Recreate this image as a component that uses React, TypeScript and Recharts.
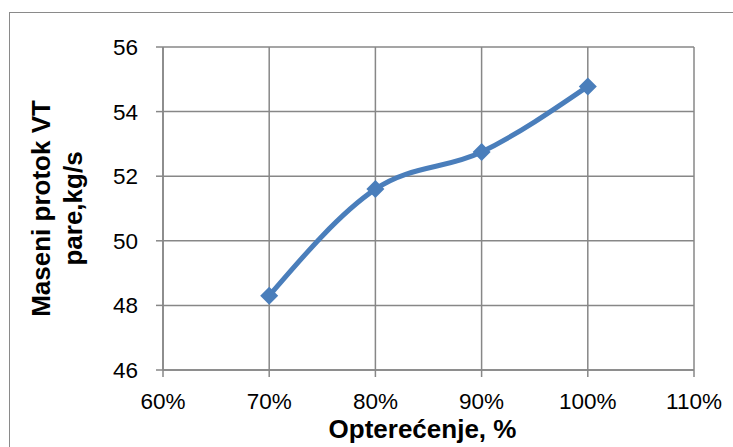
import React from "react";
import { LineChart, Line, XAxis, YAxis, CartesianGrid, Label } from "recharts";

const loadPct = [70, 80, 90, 100];
const massFlow = [48.3, 51.6, 52.75, 54.78];
const xTicks = [60, 70, 80, 90, 100, 110];
const yTicks = [46, 48, 50, 52, 54, 56];

const data = loadPct.map((x, i) => ({ x, y: massFlow[i] }));

const BLUE = "#4a7ebb";
const GRID = "#878787";
const FONT = "'Liberation Sans', Arial, sans-serif";

const Diamond = (props: any) => {
  const { cx, cy } = props;
  if (cx == null || cy == null) return null;
  const r = 9;
  return (
    <polygon
      points={`${cx},${cy - r} ${cx + r},${cy} ${cx},${cy + r} ${cx - r},${cy}`}
      fill={BLUE}
      stroke="none"
    />
  );
};

const YTitle = (props: any) => {
  const vb = props.viewBox || {};
  const cy = vb.y + vb.height / 2;
  return (
    <g>
      <text
        transform={`translate(50, ${cy}) rotate(-90)`}
        textAnchor="middle"
        fontFamily={FONT}
        fontWeight="bold"
        fontSize={26}
        fill="#000"
      >
        Maseni protok VT
      </text>
      <text
        transform={`translate(82, ${cy}) rotate(-90)`}
        textAnchor="middle"
        fontFamily={FONT}
        fontWeight="bold"
        fontSize={26}
        fill="#000"
      >
        pare,kg/s
      </text>
    </g>
  );
};

const XTitle = (props: any) => {
  const vb = props.viewBox || {};
  const cx = vb.x + vb.width / 2;
  return (
    <text
      x={cx - 6}
      y={vb.y + 68}
      textAnchor="middle"
      fontFamily={FONT}
      fontWeight="bold"
      fontSize={26}
      fill="#000"
    >
      Opterećenje, %
    </text>
  );
};

export default function App() {
  return (
    <div
      style={{
        position: "absolute",
        left: 0,
        top: 0,
        width: 733,
        height: 447,
        overflow: "hidden",
        background: "#fff",
      }}
    >
      <div
        style={{
          position: "absolute",
          left: 9,
          top: 12,
          width: 800,
          height: 500,
          border: "1px solid #8a8a8a",
          boxSizing: "border-box",
        }}
      />
      <div style={{ position: "absolute", left: 0, top: 0 }}>
        <LineChart
          width={733}
          height={447}
          data={data}
          margin={{ top: 47, right: 39, bottom: 0, left: 0 }}
        >
          <CartesianGrid stroke={GRID} strokeWidth={1.5} />
          <XAxis
            dataKey="x"
            type="number"
            domain={[60, 110]}
            ticks={xTicks}
            tickFormatter={(v: number) => `${v}%`}
            height={77}
            tickSize={7}
            tickMargin={16}
            axisLine={{ stroke: GRID, strokeWidth: 1.5 }}
            tickLine={{ stroke: GRID, strokeWidth: 1.5 }}
            tick={{ fill: "#000", fontSize: 22.5, fontFamily: FONT }}
            interval={0}
          >
            <Label content={<XTitle />} />
          </XAxis>
          <YAxis
            type="number"
            domain={[46, 56]}
            ticks={yTicks}
            width={163}
            tickSize={7}
            tickMargin={18}
            axisLine={{ stroke: GRID, strokeWidth: 1.5 }}
            tickLine={{ stroke: GRID, strokeWidth: 1.5 }}
            tick={{ fill: "#000", fontSize: 22.5, fontFamily: FONT }}
            interval={0}
          >
            <Label content={<YTitle />} />
          </YAxis>
          <Line
            dataKey="y"
            type="monotone"
            stroke={BLUE}
            strokeWidth={5}
            dot={<Diamond />}
            activeDot={false}
            isAnimationActive={false}
          />
        </LineChart>
      </div>
    </div>
  );
}
